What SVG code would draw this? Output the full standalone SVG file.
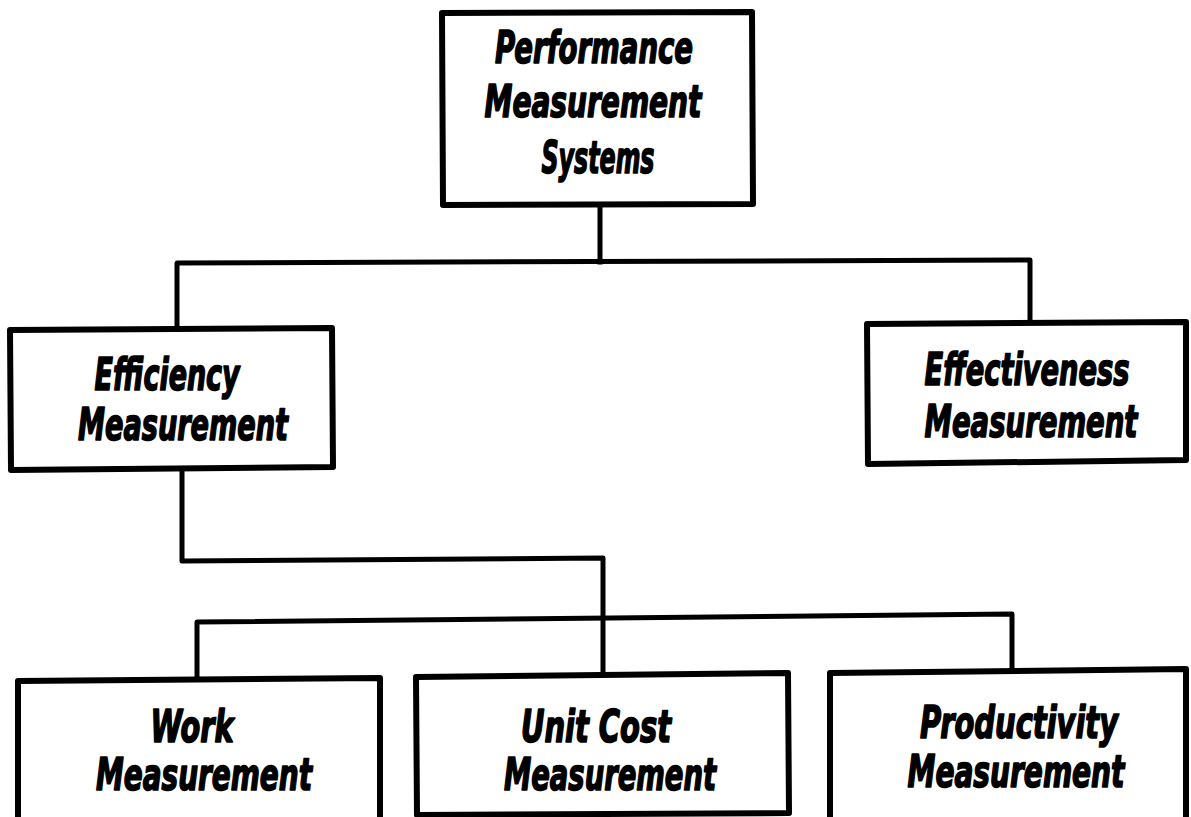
<svg xmlns="http://www.w3.org/2000/svg" width="1191" height="817" viewBox="0 0 1191 817">
<style>
.box{fill:#fff;stroke:#000;stroke-width:6;stroke-linejoin:round}
.con{fill:none;stroke:#000;stroke-width:5;stroke-linejoin:round;stroke-linecap:square}
.t{font-family:"Liberation Sans Narrow","DejaVu Sans Condensed","Liberation Sans",sans-serif;font-weight:bold;font-style:italic;font-size:44px;fill:#000;stroke:#000;stroke-width:1.6;stroke-linejoin:round;text-anchor:middle}
</style>
<rect width="1191" height="817" fill="#fff"/>
<g id="connectors">
<path class="con" d="M600,206 V262"/>
<path class="con" d="M177,330 V263 L1030,260 V323"/>
<path class="con" d="M182,468 V561 L603,558 V676"/>
<path class="con" d="M197,680 V622 L1012,614 V671"/>
</g>
<g id="performance">
<path class="box" d="M442,13 L752,12 L753,204 L443,205 Z"/>
<text class="t" x="594" y="63" textLength="198" lengthAdjust="spacingAndGlyphs">Performance</text>
<text class="t" x="593" y="117" textLength="217" lengthAdjust="spacingAndGlyphs">Measurement</text>
<text class="t" x="598" y="173" textLength="113" lengthAdjust="spacingAndGlyphs">Systems</text>
</g>
<g id="efficiency">
<path class="box" d="M10,330 L332,328 L333,467 L11,470 Z"/>
<text class="t" x="167" y="390" textLength="145" lengthAdjust="spacingAndGlyphs">Efficiency</text>
<text class="t" x="183" y="440" textLength="210" lengthAdjust="spacingAndGlyphs">Measurement</text>
</g>
<g id="effectiveness">
<path class="box" d="M867,324 L1186,322 L1186,460 L868,464 Z"/>
<text class="t" x="1027" y="385" textLength="205" lengthAdjust="spacingAndGlyphs">Effectiveness</text>
<text class="t" x="1031" y="437" textLength="213" lengthAdjust="spacingAndGlyphs">Measurement</text>
</g>
<g id="work">
<path class="box" d="M18,681 L380,678 L380,822 L18,822 Z"/>
<text class="t" x="192" y="742" textLength="83" lengthAdjust="spacingAndGlyphs">Work</text>
<text class="t" x="204" y="790" textLength="216" lengthAdjust="spacingAndGlyphs">Measurement</text>
</g>
<g id="unitcost">
<path class="box" d="M416,677 L788,673 L789,813 L417,815 Z"/>
<text class="t" x="596" y="742" textLength="150" lengthAdjust="spacingAndGlyphs">Unit Cost</text>
<text class="t" x="610" y="790" textLength="212" lengthAdjust="spacingAndGlyphs">Measurement</text>
</g>
<g id="productivity">
<path class="box" d="M830,673 L1186,669 L1186,822 L830,822 Z"/>
<text class="t" x="1019" y="738" textLength="198" lengthAdjust="spacingAndGlyphs">Productivity</text>
<text class="t" x="1016" y="787" textLength="217" lengthAdjust="spacingAndGlyphs">Measurement</text>
</g>
</svg>
